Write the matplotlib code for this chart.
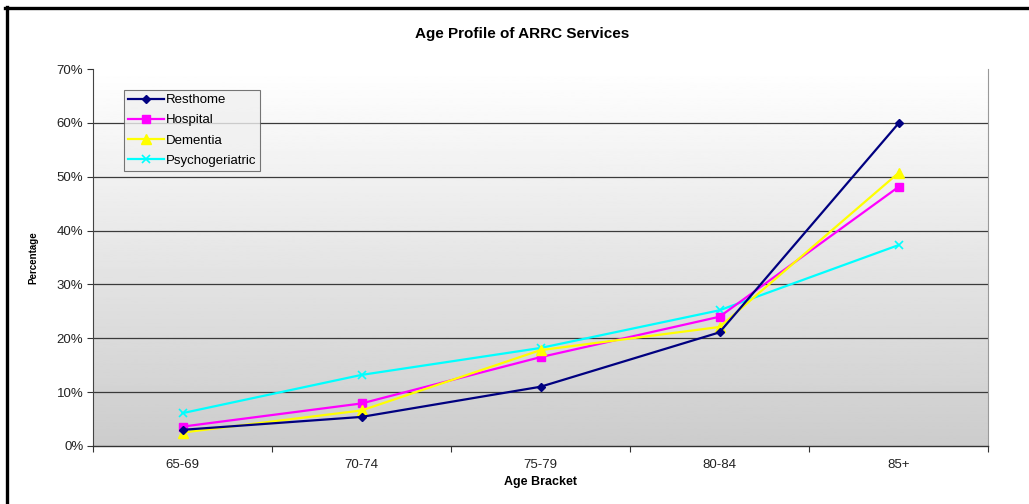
import numpy as np
import matplotlib.pyplot as plt
from matplotlib.lines import Line2D
from matplotlib.ticker import FuncFormatter, FixedLocator

plt.rcParams["font.family"] = ["Liberation Sans", "DejaVu Sans"]

age_brackets = ["65-69", "70-74", "75-79", "80-84", "85+"]
resthome = [3.0, 5.4, 11.0, 21.1, 59.9]
hospital = [3.6, 7.9, 16.5, 24.0, 48.1]
dementia = [2.5, 6.6, 17.8, 22.1, 50.7]
psychogeriatric = [6.1, 13.2, 18.2, 25.2, 37.3]

W, H = 1029, 504
fig = plt.figure(figsize=(W / 100, H / 100), dpi=100)
fig.patch.set_facecolor("white")

# plot area in pixels: left 93, right 988, top 69, bottom 446
ax = fig.add_axes([93 / W, 1 - 446 / H, (988 - 93) / W, (446 - 69) / H])

x = np.arange(len(age_brackets))
ax.set_xlim(-0.5, len(age_brackets) - 0.5)
ax.set_ylim(0, 70)

# vertical grey gradient behind the series
grad = np.linspace(1.0, 0.80, 256).reshape(-1, 1)
ax.imshow(grad, cmap="gray", vmin=0, vmax=1, aspect="auto",
          extent=(-0.5, len(age_brackets) - 0.5, 0, 70), origin="upper", zorder=0)

for v in range(10, 70, 10):
    ax.axhline(v, color="#3a3a3a", lw=0.9, zorder=1)

ax.plot(x, resthome, color="#000080", lw=1.6, marker="D", ms=4.5, label="Resthome", zorder=5)
ax.plot(x, hospital, color="#FF00FF", lw=1.6, marker="s", ms=6, label="Hospital", zorder=4)
ax.plot(x, dementia, color="#FFFF00", lw=1.6, marker="^", ms=7, label="Dementia", zorder=4)
ax.plot(x, psychogeriatric, color="#00FFFF", lw=1.6, marker="x", ms=6, mew=1.2,
        label="Psychogeriatric", zorder=3)

ax.set_xticks(x)
ax.set_xticklabels(age_brackets)
ax.xaxis.set_minor_locator(FixedLocator(np.arange(-0.5, len(age_brackets), 1.0)))
ax.tick_params(axis="x", which="major", length=0, pad=9, labelsize=9.5, colors="#222222")
ax.tick_params(axis="x", which="minor", length=4, width=0.8, color="#333333", direction="out")
ax.set_yticks(range(0, 71, 10))
ax.yaxis.set_major_formatter(FuncFormatter(lambda v, p: f"{v:.0f}%"))
ax.tick_params(axis="y", length=4, width=0.8, color="#333333", labelsize=9.5,
               colors="#222222", pad=3)

ax.spines["top"].set_visible(False)
ax.spines["left"].set_color("#444444")
ax.spines["bottom"].set_color("#333333")
ax.spines["bottom"].set_linewidth(1.0)
ax.spines["right"].set_color("#999999")

ax.set_xlabel("Age Bracket", fontsize=9, fontweight="bold", labelpad=4)
ax.set_ylabel("Percentage", fontsize=7, fontweight="bold", labelpad=13)

leg = ax.legend(loc="upper left", bbox_to_anchor=((124 - 93) / 895, 1 - (90 - 69) / 377),
                fontsize=9.5, frameon=True, fancybox=False, borderpad=0.3,
                handlelength=2.7, handletextpad=0.15, labelspacing=0.6, borderaxespad=0)
leg.get_frame().set_edgecolor("#555555")
leg.get_frame().set_facecolor("#f0f0f0")
leg.get_frame().set_linewidth(0.8)
leg.set_zorder(10)

fig.text(522 / W, 1 - 34 / H, "Age Profile of ARRC Services", ha="center", va="center",
         fontsize=11, fontweight="bold")

# heavy frame along top and left edges of the chart box
fig.add_artist(Line2D([5 / W, 1.0], [1 - 8 / H, 1 - 8 / H], color="black", lw=2.4,
                      transform=fig.transFigure))
fig.add_artist(Line2D([6.5 / W, 6.5 / W], [1 - 7 / H, 0.0], color="black", lw=2.4,
                      transform=fig.transFigure))

fig.savefig("out.png", dpi=100)
